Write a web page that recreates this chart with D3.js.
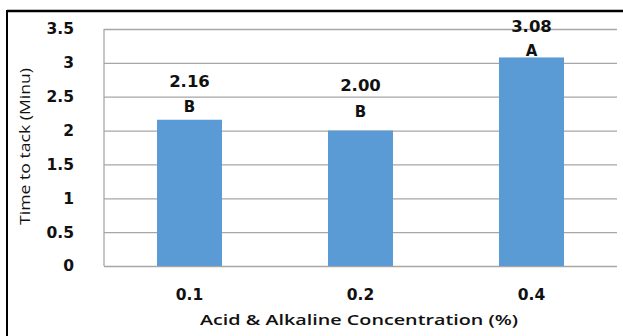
<!DOCTYPE html>
<html><head><meta charset="utf-8">
<script src="https://cdn.jsdelivr.net/npm/d3@7"></script>
<style>body{margin:0;background:#fff}svg{display:block}</style>
</head><body>
<svg id="c" width="623" height="336"></svg>
<script>
const categories = ["0.1", "0.2", "0.4"];
const values = [2.16, 2.00, 3.08];
const valueLabels = ["2.16", "2.00", "3.08"];
const letters = ["B", "B", "A"];
const yTicks = [0, 0.5, 1, 1.5, 2, 2.5, 3, 3.5];

const svg = d3.select("#c");
const W = 623, H = 336;
const m = {left: 104, right: 617, top: 29, bottom: 266};

// frame
svg.append("line").attr("x1", 7).attr("x2", W).attr("y1", 11).attr("y2", 11).attr("stroke", "#000").attr("stroke-width", 2.5);
svg.append("line").attr("x1", 7).attr("x2", 7).attr("y1", 10).attr("y2", H).attr("stroke", "#000").attr("stroke-width", 2);

const x = d3.scaleBand().domain(categories).range([m.left, m.right]).paddingInner(0.62).paddingOuter(0.31);
const y = d3.scaleLinear().domain([0, 3.5]).range([m.bottom, m.top]);

const font = "'DejaVu Sans', Verdana, sans-serif";

// gridlines + y axis labels
const ya = svg.append("g").attr("transform", `translate(${m.left},0)`)
  .call(d3.axisLeft(y).tickValues(yTicks).tickSize(-(m.right - m.left)).tickPadding(30).tickFormat(d3.format("~g")));
ya.select(".domain").remove();
ya.selectAll(".tick line").attr("stroke", "#a6a6a6").attr("stroke-width", 1.3);
ya.selectAll(".tick text").attr("font-family", font).attr("font-weight", "bold").attr("font-size", 15.5).attr("fill", "#111");
// left plot edge
svg.append("line").attr("x1", m.left).attr("x2", m.left).attr("y1", m.top).attr("y2", m.bottom).attr("stroke", "#a6a6a6").attr("stroke-width", 1.3);

// bars
svg.selectAll("rect.bar").data(values).join("rect").attr("class", "bar")
  .attr("x", (d, i) => x(categories[i])).attr("width", x.bandwidth())
  .attr("y", d => y(d)).attr("height", d => y(0) - y(d)).attr("fill", "#5b9bd5");

// x axis labels
const xa = svg.append("g").attr("transform", `translate(0,${m.bottom})`)
  .call(d3.axisBottom(x).tickSize(0).tickPadding(23));
xa.select(".domain").remove();
xa.selectAll(".tick text").attr("font-family", font).attr("font-weight", "bold").attr("font-size", 15.5).attr("fill", "#111");

// annotation offsets (px above bar top)
const valueDy = [33, 40, 25];
const letterDy = [8, 14, 1];
svg.selectAll("text.val").data(values).join("text").attr("class", "val")
  .attr("x", (d, i) => x(categories[i]) + x.bandwidth() / 2)
  .attr("y", (d, i) => y(d) - valueDy[i])
  .attr("text-anchor", "middle").attr("font-family", font).attr("font-weight", "bold").attr("font-size", 16.5).attr("fill", "#111")
  .text((d, i) => valueLabels[i]);
svg.selectAll("text.let").data(values).join("text").attr("class", "let")
  .attr("x", (d, i) => x(categories[i]) + x.bandwidth() / 2)
  .attr("y", (d, i) => y(d) - letterDy[i])
  .attr("text-anchor", "middle").attr("font-family", font).attr("font-weight", "bold").attr("font-size", 15).attr("fill", "#111")
  .text((d, i) => letters[i]);

// axis titles
svg.append("text").attr("x", 200).attr("y", 325)
  .attr("textLength", 318).attr("lengthAdjust", "spacingAndGlyphs")
  .attr("font-family", "'Open Sans', sans-serif").attr("font-weight", "600").attr("font-size", 15).attr("fill", "#111")
  .text("Acid & Alkaline Concentration (%)");
svg.append("text").attr("transform", "translate(30,225) rotate(-90)")
  .attr("textLength", 157).attr("lengthAdjust", "spacingAndGlyphs")
  .attr("font-family", "'Open Sans', sans-serif").attr("font-size", 14.5).attr("fill", "#111")
  .text("Time to tack (Minu)");
</script>
</body></html>
